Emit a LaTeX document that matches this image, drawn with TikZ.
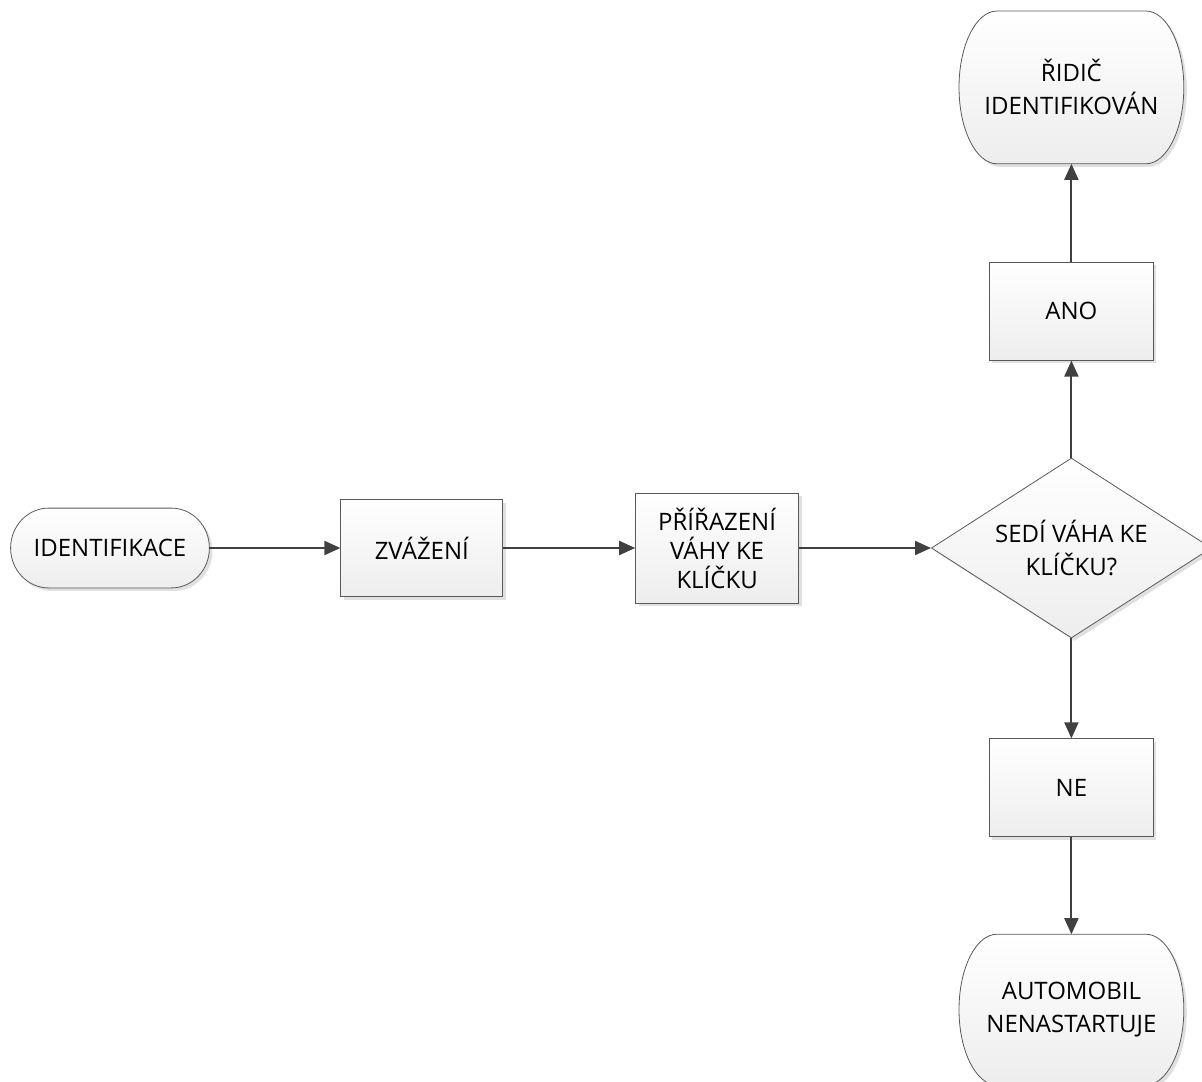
\documentclass[tikz,border=0pt]{standalone}
\usepackage{fontspec}
\setmainfont{Open Sans}
\usetikzlibrary{arrows.meta,positioning,shapes.geometric,shadows,backgrounds,calc}

\begin{document}
\begin{tikzpicture}[node distance=49pt and 66pt,font=\fontsize{12}{16.5}\selectfont,
  look/.style={draw=black!65,top color=white,bottom color=black!7,drop shadow={shadow xshift=1.5pt,shadow yshift=-1.5pt,fill=black!12,opacity=1}},
  box/.style={look,align=center,minimum width=82pt,minimum height=49pt},
  term/.style={align=center,inner sep=0pt,minimum width=112pt,minimum height=76pt},
  choice/.style={look,diamond,align=center,aspect=1.55,inner sep=0pt,minimum width=140pt,minimum height=90pt},
  edge/.style={draw=black!75,line width=1pt,-{Triangle[length=8pt,width=7pt]}}]
\useasboundingbox (0,0) rectangle (601pt,-540.5pt);
\node[term,minimum width=99pt,minimum height=39.5pt](start) at (55pt,-274pt){IDENTIFIKACE};
\node[box,right=65.5pt of start,minimum width=81pt,minimum height=48.5pt](weigh){ZVÁŽENÍ};
\node[box,right=66pt of weigh,minimum width=81.5pt,minimum height=55pt,font=\fontsize{12}{14.5}\selectfont](assign){PŘÍŘAZENÍ\\VÁHY KE\\KLÍČKU};
\node[choice,right=66pt of assign](check){SEDÍ VÁHA KE\\KLÍČKU?};
\node[box,above=48.5pt of check](yes){ANO};
\node[term,above=49pt of yes](ok){ŘIDIČ\\IDENTIFIKOVÁN};
\node[box,below=50pt of check](no){NE};
\node[term,below=48.5pt of no,minimum height=75pt](fail){AUTOMOBIL\\NENASTARTUJE};
% terminal outlines
\begin{scope}[on background layer]
\foreach \t in {start,ok,fail}
  \draw[look] let \p1=(\t.north),\p2=(\t.south),\n1={(\y1-\y2)/2} in
    ([xshift=19pt]\t.north west)--([xshift=-19pt]\t.north east)
    arc[start angle=90,end angle=-90,x radius=19pt,y radius=\n1]
    --([xshift=19pt]\t.south west)
    arc[start angle=270,end angle=90,x radius=19pt,y radius=\n1]--cycle;
\end{scope}
\draw[edge](start)--(weigh);\draw[edge](weigh)--(assign);\draw[edge](assign)--(check);
\draw[edge](check)--(yes);\draw[edge](yes)--(ok);
\draw[edge](check)--(no);\draw[edge](no)--(fail);
\end{tikzpicture}
\end{document}
